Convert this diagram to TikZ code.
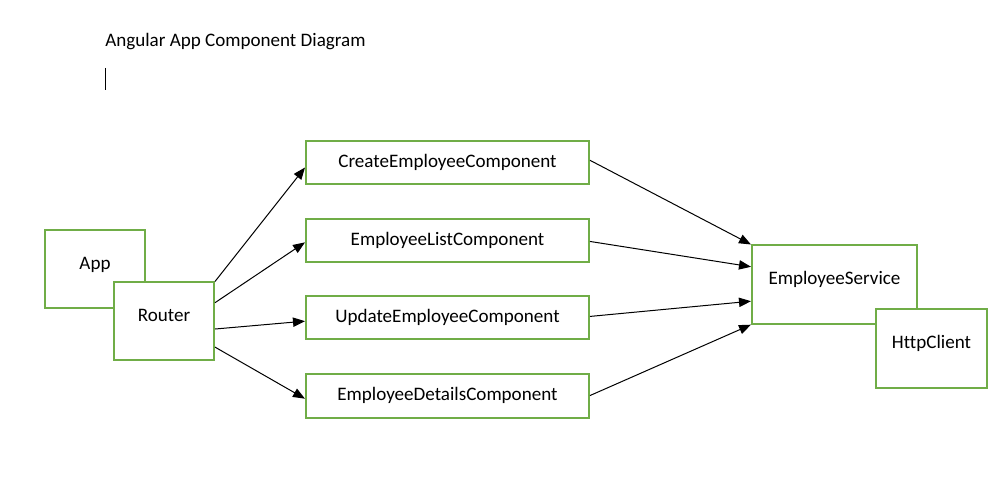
\documentclass[tikz,border=0pt]{standalone}
\usepackage{fontspec}
\setmainfont{Carlito}[Ligatures={NoCommon}]
\usetikzlibrary{arrows.meta,calc}
\definecolor{boxgreen}{HTML}{70AD47}
\begin{document}
\begin{tikzpicture}[x=0.75pt,y=-0.75pt,
  font=\fontsize{14.3}{17}\selectfont,
  box/.style={draw=boxgreen,line width=1.5pt,fill=white,rectangle,inner sep=0pt,anchor=north west},
  conn/.style={draw=black,line width=0.75pt,-{Triangle[length=9pt,width=7pt]}}]
\useasboundingbox (0,0) rectangle (1000,495);
\node[anchor=base west,inner sep=0pt] (title) at (105,47) {Angular App Component Diagram};
\coordinate (cur1) at (105.5,68);
\coordinate (cur2) at (105.5,90);
\draw[line width=0.75pt] (cur1) -- (cur2);
% left boxes
\node[box,minimum width=75pt,minimum height=58.5pt] (app) at (44,229.5) {\raisebox{9.5pt}{App}};
\node[box,minimum width=75pt,minimum height=58.5pt] (router) at (113,281.5) {\raisebox{9.5pt}{Router}};
% components
\node[box,minimum width=212.25pt,minimum height=32.25pt] (create) at (305,140.5) {\raisebox{3.5pt}{CreateEmployeeComponent}};
\node[box,minimum width=212.25pt,minimum height=32.25pt] (list) at (305,218.5) {\raisebox{3.5pt}{EmployeeListComponent}};
\node[box,minimum width=212.25pt,minimum height=32.25pt] (update) at (305,295.5) {\raisebox{3.5pt}{UpdateEmployeeComponent}};
\node[box,minimum width=212.25pt,minimum height=32.25pt] (details) at (305,373.5) {\raisebox{3.5pt}{EmployeeDetailsComponent}};
% service
\node[box,minimum width=123.75pt,minimum height=59.25pt] (service) at (751,244.5) {\raisebox{10pt}{EmployeeService}};
\node[box,minimum width=83.25pt,minimum height=59.25pt] (http) at (875,308.5) {\raisebox{10pt}{HttpClient}};
% router arrows
\draw[conn] (router.north east) -- ($(create.north west)!0.6!(create.south west)$);
\draw[conn] ($(router.north east)!0.265!(router.south east)$) -- ($(list.north west)!0.53!(list.south west)$);
\draw[conn] ($(router.north east)!0.594!(router.south east)$) -- ($(update.north west)!0.57!(update.south west)$);
\draw[conn] ($(router.north east)!0.82!(router.south east)$) -- ($(details.north west)!0.56!(details.south west)$);
% service arrows
\draw[conn] ($(create.north east)!0.44!(create.south east)$) -- ($(service.north west)!0.0!(service.south west)$);
\draw[conn] ($(list.north east)!0.51!(list.south east)$) -- ($(service.north west)!0.275!(service.south west)$);
\draw[conn] ($(update.north east)!0.465!(update.south east)$) -- ($(service.north west)!0.70!(service.south west)$);
\draw[conn] ($(details.north east)!0.49!(details.south east)$) -- ($(service.north west)!0.99!(service.south west)$);
\end{tikzpicture}
\end{document}
